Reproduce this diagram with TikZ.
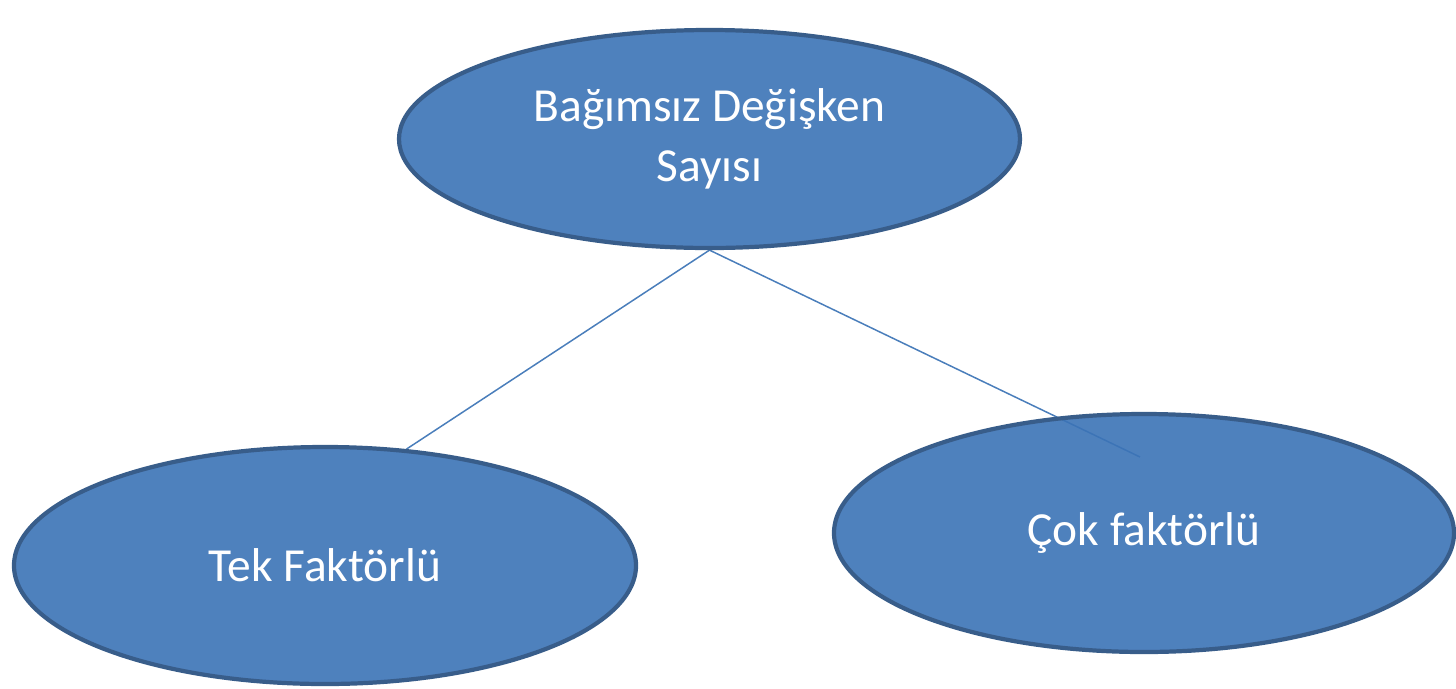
\documentclass[tikz,border=0pt]{standalone}
\usepackage{fontspec}
\setmainfont{Carlito}
\usetikzlibrary{shapes.geometric,backgrounds}

\definecolor{ovalfill}{HTML}{3B73B6}
\definecolor{ovaledge}{HTML}{385D8A}
\definecolor{linkblue}{HTML}{4A7EBB}

\begin{document}
\begin{tikzpicture}[
  oval/.style={ellipse,draw=ovaledge,line width=2.4pt,fill=ovalfill,fill opacity=0.9,text opacity=1,
    text=white,font=\fontsize{27}{34}\selectfont,align=center,inner sep=0pt},
  link/.style={draw=linkblue,line width=0.85pt}]
\useasboundingbox (0,0) rectangle (29.12,-13.76);

\node[oval,minimum width=12.42cm,minimum height=4.36cm] (sayi) at (14.19,-2.78) {Bağımsız Değişken\\Sayısı};
\node[oval,minimum width=12.44cm,minimum height=4.74cm] (tek) at (6.50,-11.31) {Tek Faktörlü};
\node[oval,minimum width=12.40cm,minimum height=4.76cm] (cok) at (22.88,-10.66) {Çok faktörlü};
\coordinate (cokend) at (22.8,-9.14);
%%%%%%%%%%%%%%%%
\begin{scope}[on background layer]
\draw[link] (sayi.south) -- (tek.55);
\draw[link] (sayi.south) -- (cokend);
\end{scope}

\end{tikzpicture}
\end{document}
